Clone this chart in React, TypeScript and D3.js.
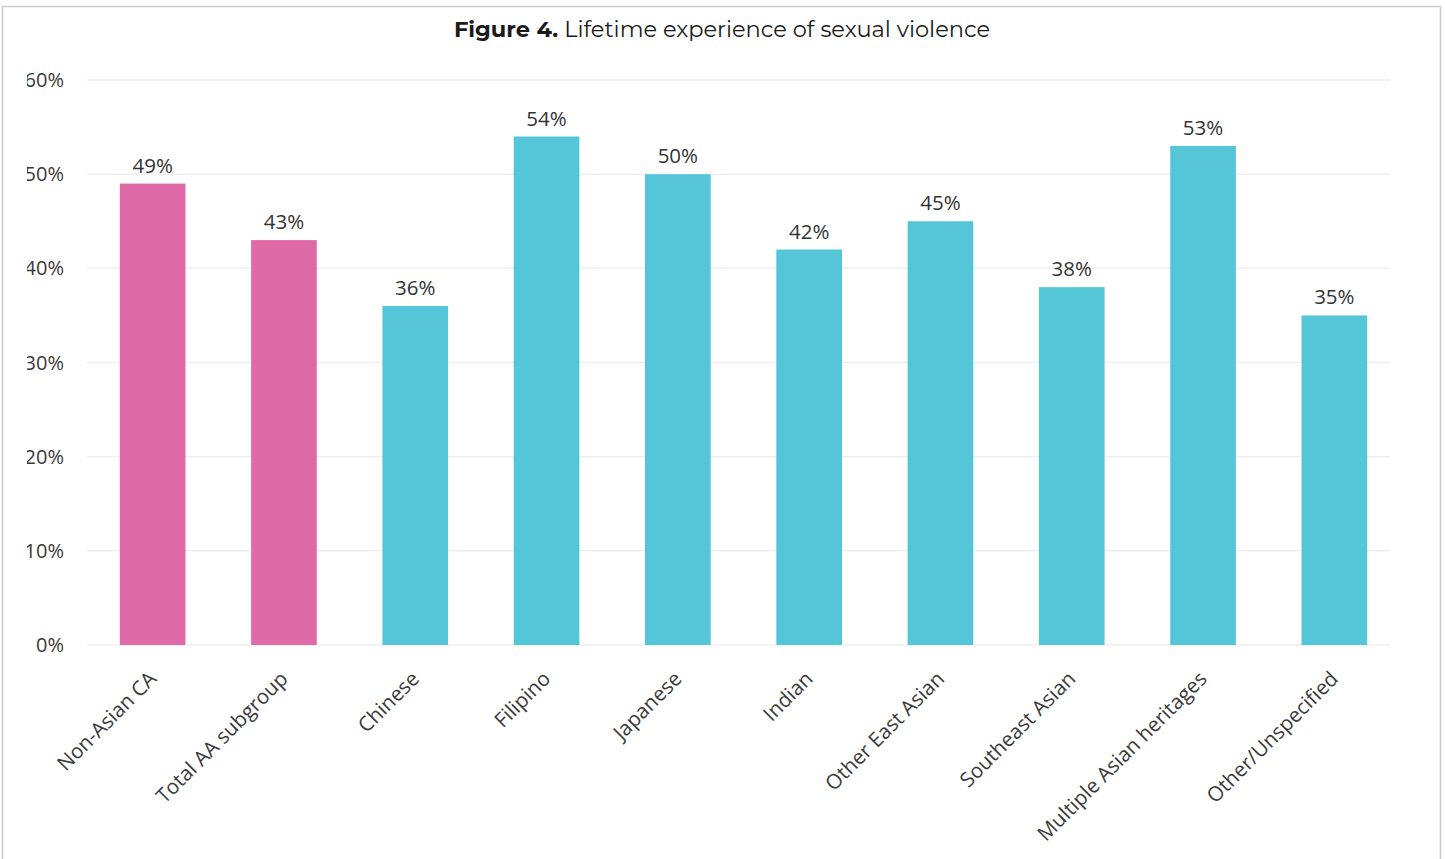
import React from "react";
import * as d3 from "d3";

const categories = [
  "Non-Asian CA",
  "Total AA subgroup",
  "Chinese",
  "Filipino",
  "Japanese",
  "Indian",
  "Other East Asian",
  "Southeast Asian",
  "Multiple Asian heritages",
  "Other/Unspecified",
];
const values = [49, 43, 36, 54, 50, 42, 45, 38, 53, 35];
const groups = ["ref", "ref", "sub", "sub", "sub", "sub", "sub", "sub", "sub", "sub"];
const yTicks = [0, 10, 20, 30, 40, 50, 60];

const W = 1445;
const H = 859;
const PINK = "#df6aa8";
const TEAL = "#55c5d8";
const LABEL_FONT = "'Open Sans', 'Noto Sans', sans-serif";

export default function App() {
  const x = d3.scaleBand<string>().domain(categories).range([87, 1400]).paddingInner(0.5).paddingOuter(0.25);
  const y = d3.scaleLinear().domain([0, 60]).range([645, 80]);
  const bw = x.bandwidth();

  return (
    <svg width={W} height={H} style={{ position: "absolute", left: 0, top: 0, background: "#fff" }}>
      <defs>
        <clipPath id="ytickclip">
          <rect x={27} y={0} width={100} height={H} />
        </clipPath>
      </defs>
      <rect x={2.5} y={6.5} width={1438} height={860} fill="#fff" stroke="#c8cccc" strokeWidth={1.5} />
      <text x={722} y={37} textAnchor="middle" fontFamily="Montserrat, 'Noto Sans', sans-serif" fontSize={22.5} fill="#1a1a1a">
        <tspan fontWeight={700}>Figure 4.</tspan>
        <tspan> Lifetime experience of sexual violence</tspan>
      </text>
      {yTicks.map((t) => (
        <g key={t}>
          <line x1={87} x2={1390} y1={y(t)} y2={y(t)} stroke="#efefef" strokeWidth={1.5} />
          <text
            x={64}
            y={y(t)}
            dy="0.35em"
            textAnchor="end"
            fontFamily={LABEL_FONT}
            fontSize={20}
            fill="#3a3a3a"
            clipPath="url(#ytickclip)"
          >
            {t}%
          </text>
        </g>
      ))}
      {categories.map((c, i) => {
        const cx = (x(c) as number) + bw / 2;
        return (
          <g key={c}>
            <rect x={x(c)} y={y(values[i])} width={bw} height={y(0) - y(values[i])} fill={groups[i] === "ref" ? PINK : TEAL} />
            <text x={cx} y={y(values[i]) - 11} textAnchor="middle" fontFamily={LABEL_FONT} fontSize={20.5} fill="#333">
              {values[i]}%
            </text>
            <text
              transform={`translate(${cx},${y(0) + 30}) rotate(-45)`}
              textAnchor="end"
              dy="0.35em"
              fontFamily={LABEL_FONT}
              fontSize={20.5}
              fill="#3a3a3a"
            >
              {c}
            </text>
          </g>
        );
      })}
    </svg>
  );
}
